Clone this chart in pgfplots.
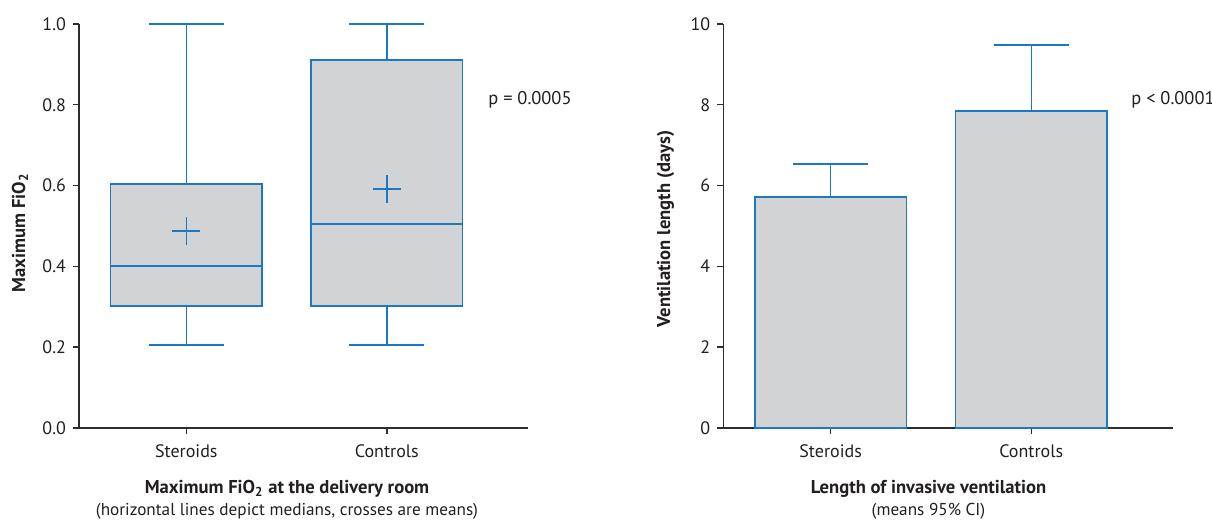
\documentclass[border=0pt]{standalone}
\usepackage{pgfplots}
\pgfplotsset{compat=1.18}
\usepgfplotslibrary{statistics}
\usepackage{fontspec}
\setmainfont{PT Sans}
\definecolor{pblue}{RGB}{28,120,192}
\definecolor{pgray}{RGB}{209,211,212}
\definecolor{ptext}{RGB}{35,31,32}
\definecolor{paxis}{RGB}{45,45,45}
\pgfplotsset{
  myaxis/.style={
    scale only axis, anchor=south west,
    axis lines=left, axis line style={-, paxis, line width=0.7pt},
    xmin=0.465, xmax=2.705,
    xtick={1,2}, xticklabels={Steroids,Controls},
    tick align=outside, major tick length=3pt,
    tick style={paxis, line width=0.7pt},
    ymin=0,
    ticklabel style={font=\fontsize{9}{11}\selectfont, text=ptext},
    xticklabel style={yshift=-1.8pt},
    /pgf/number format/assume math mode=true,
    clip=false,
    boxplot/draw direction=y,
  }
}
\begin{document}
\begin{tikzpicture}
\useasboundingbox (0,0) rectangle (606pt,260pt);
% Left panel: box plot
\begin{axis}[myaxis, at={(39.5pt,46pt)}, width=224.6pt, height=202pt,
  ymax=1, ytick={0,0.2,0.4,0.6,0.8,1.0},
  yticklabel style={/pgf/number format/.cd, fixed, fixed zerofill, precision=1}]
\addplot[boxplot prepared={lower whisker=0.205, lower quartile=0.302, median=0.401,
    upper quartile=0.604, upper whisker=1.0, draw position=1,
    box extend=0.755, whisker extend=0.375},
  draw=pblue, fill=pgray, line width=0.75pt, solid, mark=none] coordinates {};
\addplot[boxplot prepared={lower whisker=0.205, lower quartile=0.302, median=0.505,
    upper quartile=0.911, upper whisker=1.0, draw position=2,
    box extend=0.755, whisker extend=0.375},
  draw=pblue, fill=pgray, line width=0.75pt, solid, mark=none] coordinates {};
\addplot[only marks, mark=+, mark size=7pt, pblue, line width=0.75pt]
  coordinates {(1,0.488) (2,0.592)};
\end{axis}
% Right panel: bars with 95% CI
\begin{axis}[myaxis, at={(361.65pt,46pt)}, width=224.7pt, height=202pt,
  ymax=10, ytick={0,2,4,6,8,10}]
\addplot[ybar, bar width=0.755, fill=pgray, draw=pblue, line width=0.75pt,
  error bars/.cd, y dir=plus, y explicit, error mark=|,
  error bar style={pblue, line width=0.75pt},
  error mark options={pblue, line width=0.75pt, mark size=18.75pt}]
  coordinates {(1,5.72) +- (0,0.81) (2,7.85) +- (0,1.63)};
\end{axis}
% Texts
\node[anchor=west, inner sep=0pt, text=ptext, font=\fontsize{9.2}{11}\selectfont] at (244pt,210pt) {p = 0.0005};
\node[anchor=west, inner sep=0pt, text=ptext, font=\fontsize{9.2}{11}\selectfont] at (565.5pt,210pt) {p < 0.0001};
\node[rotate=90, text=ptext, font=\fontsize{9.3}{11}\selectfont\bfseries] at (10pt,143.5pt) {Maximum FiO\textsubscript{2}};
\node[rotate=90, text=ptext, font=\fontsize{9.3}{11}\selectfont\bfseries] at (332.75pt,145.5pt) {Ventilation length (days)};
\node[text=ptext, font=\fontsize{9.3}{11}\selectfont\bfseries] at (143.5pt,15.5pt) {Maximum FiO\textsubscript{2} at the delivery room};
\node[text=ptext, font=\fontsize{8.6}{10}\selectfont] at (143.5pt,4.5pt) {(horizontal lines depict medians, crosses are means)};
\node[text=ptext, font=\fontsize{9.3}{11}\selectfont\bfseries] at (464.25pt,15.5pt) {Length of invasive ventilation};
\node[text=ptext, font=\fontsize{8.6}{10}\selectfont] at (464.25pt,4.5pt) {(means 95\% CI)};
\end{tikzpicture}
\end{document}
